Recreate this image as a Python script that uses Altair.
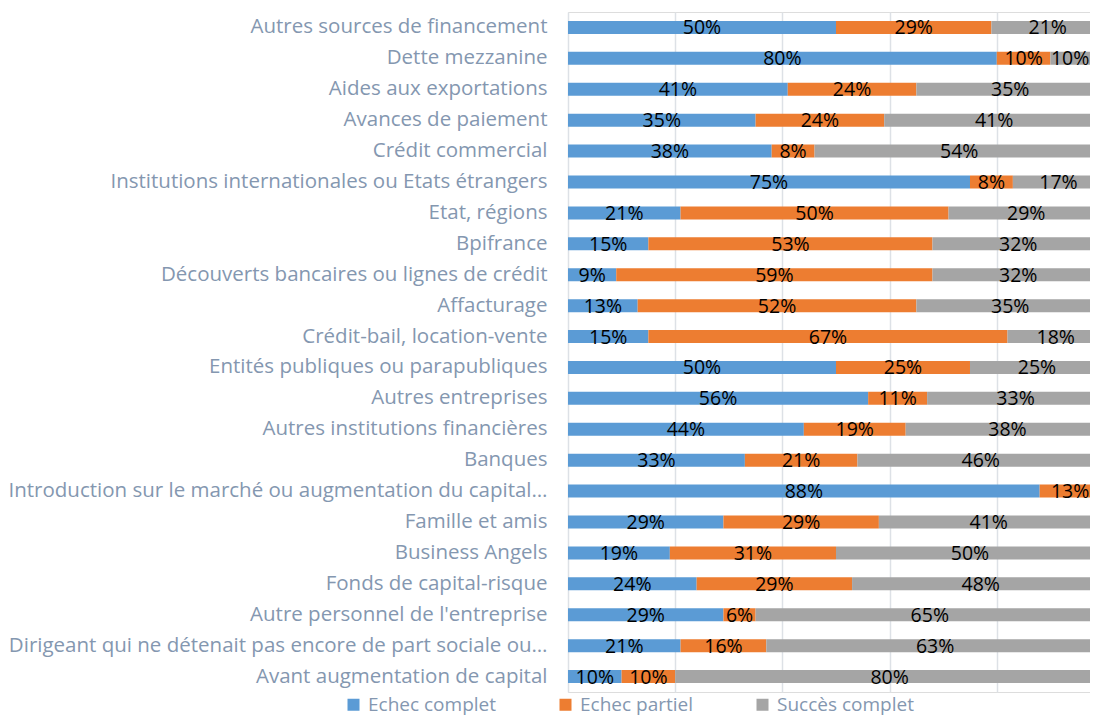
import altair as alt
import pandas as pd

categories = [
    "Autres sources de financement",
    "Dette mezzanine",
    "Aides aux exportations",
    "Avances de paiement",
    "Crédit commercial",
    "Institutions internationales ou Etats étrangers",
    "Etat, régions",
    "Bpifrance",
    "Découverts bancaires ou lignes de crédit",
    "Affacturage",
    "Crédit-bail, location-vente",
    "Entités publiques ou parapubliques",
    "Autres entreprises",
    "Autres institutions financières",
    "Banques",
    "Introduction sur le marché ou augmentation du capital…",
    "Famille et amis",
    "Business Angels",
    "Fonds de capital-risque",
    "Autre personnel de l'entreprise",
    "Dirigeant qui ne détenait pas encore de part sociale ou…",
    "Avant augmentation de capital",
]

echec_complet = [50, 80, 41, 35, 38, 75, 21, 15, 9, 13, 15, 50, 56, 44, 33, 88, 29, 19, 24, 29, 21, 10]
echec_partiel = [29, 10, 24, 24, 8, 8, 50, 53, 59, 52, 67, 25, 11, 19, 21, 13, 29, 31, 29, 6, 16, 10]
succes_complet = [21, 10, 35, 41, 54, 17, 29, 32, 32, 35, 18, 25, 33, 38, 46, 0, 41, 50, 48, 65, 63, 80]

series = ["Echec complet", "Echec partiel", "Succès complet"]
colors = ["#5B9BD5", "#ED7D31", "#A5A5A5"]

rows = []
for i, c in enumerate(categories):
    for k, (s, vals) in enumerate(zip(series, [echec_complet, echec_partiel, succes_complet])):
        rows.append({"cat": c, "serie": s, "order": k, "v": vals[i]})
df = pd.DataFrame(rows)

FONT = "Open Sans"
LABEL_COLOR = "#8497B0"
XMAX = 0.9739  # plot spans 568 -> 1090 px; 100 % would lie at ~1104 px as in the reference

base = alt.Chart(df).transform_filter("datum.v > 0").transform_calculate(
    frac="datum.v / 100"
).transform_stack(
    stack="frac", groupby=["cat"], as_=["x0", "x1"], sort=[alt.SortField("order", order="ascending")]
).transform_calculate(
    mid="min((datum.x0 + datum.x1) / 2, %f)" % (XMAX - 0.037),
    label="datum.v + '%'",
)

yenc = alt.Y(
    "cat:N",
    sort=categories,
    title=None,
    scale=alt.Scale(paddingInner=0.58, paddingOuter=0.29),
    axis=alt.Axis(
        ticks=False,
        domain=False,
        grid=False,
        labelFont=FONT,
        labelFontSize=20.5,
        labelColor=LABEL_COLOR,
        labelPadding=21,
        labelLimit=700,
    ),
)

xscale = alt.Scale(domain=[0, XMAX], nice=False, zero=True)

bars = base.mark_bar(clip=True).encode(
    x=alt.X(
        "x0:Q",
        scale=xscale,
        title=None,
        axis=alt.Axis(
            labels=False,
            ticks=False,
            domain=False,
            grid=True,
            gridColor="#DDE1E6",
            gridWidth=1.5,
            values=[0, 0.2, 0.4, 0.6, 0.8],
        ),
    ),
    x2="x1:Q",
    y=yenc,
    color=alt.Color(
        "serie:N",
        scale=alt.Scale(domain=series, range=colors),
        title=None,
        legend=alt.Legend(
            orient="none",
            direction="horizontal",
            legendX=-224,
            legendY=683,
            symbolType="square",
            symbolSize=144,
            symbolStrokeWidth=0,
            labelFont=FONT,
            labelFontSize=19,
            labelColor=LABEL_COLOR,
            labelOffset=5,
            columnPadding=60,
            labelLimit=400,
        ),
    ),
    order=alt.Order("order:Q"),
)

texts = base.mark_text(
    clip=True, font=FONT, fontSize=19.5, color="#000000", baseline="middle", align="center", dy=1
).encode(
    x=alt.X("mid:Q", scale=xscale),
    y=alt.Y("cat:N", sort=categories),
    text="label:N",
)

chart = (
    alt.layer(bars, texts)
    .properties(
        width=522,
        height=680,
        padding={"left": 560, "top": 4, "right": 0, "bottom": 24},
        autosize="none",
    )
    .configure_view(stroke=None)
    .configure(background="white")
)

chart.save("out.html", embed_options={"renderer": "svg", "actions": False})
